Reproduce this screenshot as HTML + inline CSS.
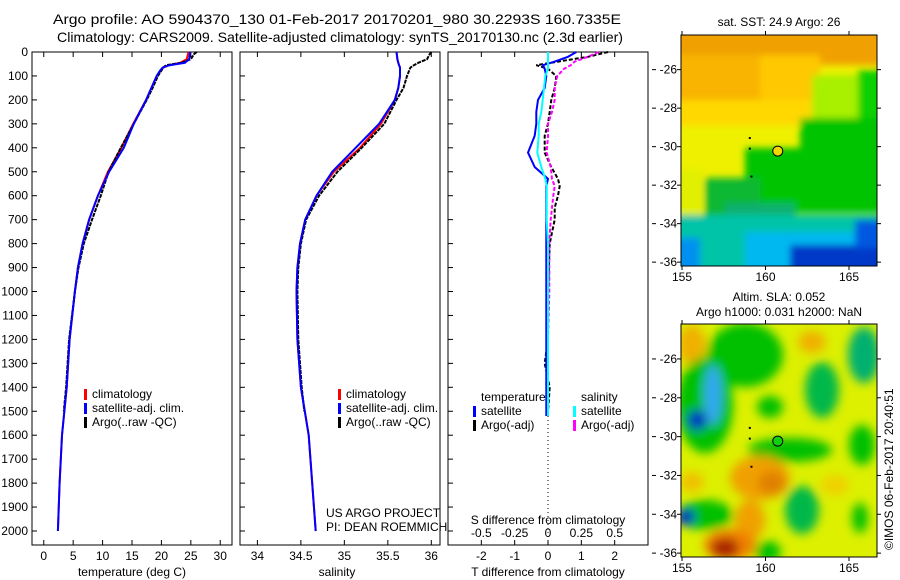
<!DOCTYPE html>
<html><head><meta charset="utf-8">
<style>
body{margin:0;background:#fff;}
svg{display:block;font-family:"Liberation Sans",sans-serif;font-size:12px;}
</style></head>
<body>
<svg id="fig" width="900" height="580" viewBox="0 0 900 580">
<defs>
<filter id="b1" x="-20%" y="-20%" width="140%" height="140%"><feGaussianBlur stdDeviation="3.5"/></filter>
<filter id="b2" x="-20%" y="-20%" width="140%" height="140%"><feGaussianBlur stdDeviation="5"/></filter>
<clipPath id="c1"><rect x="681" y="35" width="196" height="231"/></clipPath>
<clipPath id="c2"><rect x="681" y="324" width="196" height="233"/></clipPath>
</defs>
<text x="337" y="24" text-anchor="middle" font-size="14" textLength="568" lengthAdjust="spacingAndGlyphs">Argo profile: AO 5904370_130 01-Feb-2017 20170201_980 30.2293S 160.7335E</text>
<text x="340" y="42" text-anchor="middle" font-size="14" textLength="566" lengthAdjust="spacingAndGlyphs">Climatology: CARS2009. Satellite-adjusted climatology: synTS_20170130.nc (2.3d earlier)</text>

<!-- top map (SST) -->
<g clip-path="url(#c1)">
<rect x="670" y="20" width="220" height="260" fill="#eef000"/>
<g filter="url(#b1)">
<rect x="660" y="20" width="240" height="45" fill="#f0a000"/>
<rect x="660" y="55" width="110" height="55" fill="#f8b400"/>
<rect x="760" y="55" width="60" height="45" fill="#ffc800"/>
<rect x="660" y="100" width="160" height="25" fill="#ffd800"/>
<rect x="812" y="75" width="70" height="55" fill="#a8f000"/>
<rect x="858" y="70" width="30" height="85" fill="#10d000"/>
<rect x="800" y="118" width="90" height="40" fill="#00c400"/>
<rect x="745" y="148" width="140" height="65" fill="#00c400"/>
<rect x="705" y="178" width="55" height="40" fill="#10b830"/>
<rect x="725" y="203" width="70" height="25" fill="#10b070"/>
<rect x="660" y="170" width="42" height="50" fill="#e0f000"/>
<rect x="660" y="215" width="240" height="70" fill="#00c4a8"/>
<rect x="745" y="232" width="150" height="50" fill="#00b8f0"/>
<rect x="790" y="245" width="100" height="40" fill="#0038c8"/>
<rect x="855" y="220" width="35" height="28" fill="#0058e0"/>
<rect x="660" y="238" width="40" height="40" fill="#0090f0"/>
</g>
</g>
<rect x="681" y="35" width="196" height="231" fill="none" stroke="#000"/>
<text x="779" y="26" text-anchor="middle">sat. SST: 24.9 Argo: 26</text>

<!-- bottom map (SLA) -->
<g clip-path="url(#c2)">
<rect x="670" y="310" width="220" height="260" fill="#dcf000"/>
<g filter="url(#b2)">
<ellipse cx="692" cy="345" rx="14" ry="20" fill="#f0b000"/>
<ellipse cx="745" cy="355" rx="38" ry="32" fill="#00c000"/>
<ellipse cx="705" cy="405" rx="28" ry="48" fill="#00c000"/>
<ellipse cx="713" cy="395" rx="9" ry="30" fill="#30a8f0"/>
<ellipse cx="697" cy="420" rx="10" ry="10" fill="#0030c0"/>
<ellipse cx="812" cy="342" rx="14" ry="11" fill="#f0b000"/>
<ellipse cx="822" cy="390" rx="17" ry="28" fill="#00b848"/>
<ellipse cx="864" cy="355" rx="16" ry="28" fill="#00b070"/>
<ellipse cx="770" cy="407" rx="13" ry="11" fill="#00c000"/>
<ellipse cx="790" cy="450" rx="42" ry="12" fill="#00c000"/>
<ellipse cx="862" cy="445" rx="13" ry="20" fill="#00c000"/>
<ellipse cx="760" cy="478" rx="30" ry="22" fill="#f0a000"/>
<ellipse cx="772" cy="483" rx="14" ry="12" fill="#e08000"/>
<ellipse cx="750" cy="520" rx="15" ry="20" fill="#f0a000"/>
<ellipse cx="730" cy="545" rx="26" ry="16" fill="#f08000"/>
<ellipse cx="725" cy="548" rx="14" ry="10" fill="#a82000"/>
<ellipse cx="692" cy="482" rx="12" ry="10" fill="#f0c000"/>
<ellipse cx="705" cy="515" rx="28" ry="15" fill="#00c000"/>
<ellipse cx="686" cy="517" rx="9" ry="9" fill="#0030c0"/>
<ellipse cx="802" cy="510" rx="17" ry="24" fill="#00b848"/>
<ellipse cx="860" cy="518" rx="8" ry="15" fill="#00c000"/>
<ellipse cx="768" cy="552" rx="13" ry="11" fill="#00c000"/>
<ellipse cx="835" cy="485" rx="14" ry="10" fill="#f0d000"/>
</g>
</g>
<rect x="681" y="324" width="196" height="233" fill="none" stroke="#000"/>
<text x="779" y="301" text-anchor="middle">Altim. SLA: 0.052</text>
<text x="779" y="316" text-anchor="middle">Argo h1000: 0.031 h2000: NaN</text>
<text transform="translate(893,550) rotate(-90)">©IMOS 06-Feb-2017 20:40:51</text>

<g id="plots"></g>
</svg>
<script>
// ---- profile data (depth in dbar) ----
const depths   = [0,30,45,55,65,80,100,150,200,300,400,500,600,700,800,900,1000,1200,1400,1600,1800,2000];
const tempClim = [24.6,24.3,23.2,21.3,20.3,19.8,19.2,18.3,17.4,15.2,13.2,10.9,9.2,7.7,6.6,5.8,5.3,4.4,3.9,3.1,2.7,2.4];
const tempSat  = [24.9,24.7,24.0,21.4,20.2,19.7,19.2,18.3,17.4,15.3,13.6,11.1,9.2,7.7,6.6,5.8,5.3,4.4,3.9,3.1,2.7,2.4];
const argoDepths = [0,10,30,45,55,65,100,150,200,300,400,500,600,700,800,900,1000,1200,1400,1500];
const tempArgo = [26.0,25.5,25.0,23.4,20.8,20.3,19.4,18.5,17.5,15.3,13.1,11.0,9.7,8.2,6.8,5.9,5.3,4.3,3.8,3.4];
const salClim  = [35.60,35.61,35.62,35.63,35.64,35.64,35.64,35.62,35.58,35.42,35.18,34.88,34.68,34.55,34.49,34.46,34.45,34.46,34.50,34.59,34.63,34.67];
const salSat   = [35.60,35.61,35.62,35.63,35.64,35.64,35.64,35.62,35.58,35.40,35.13,34.86,34.68,34.55,34.49,34.46,34.45,34.46,34.50,34.59,34.63,34.67];
const salArgo  = [36.00,35.98,35.95,35.85,35.80,35.76,35.72,35.68,35.60,35.46,35.20,34.92,34.71,34.56,34.50,34.47,34.46,34.47,34.51,34.54];
// ---- difference panel ----
const diffDepths = [0,20,40,55,70,100,150,200,250,300,350,420,480,530,560,600,650,700,800,1000,1200,1300,1400,1500,1520];
const dTsat  = [0.85,0.6,0.2,-0.15,-0.1,-0.05,-0.1,-0.3,-0.35,-0.35,-0.4,-0.6,-0.4,0.0,-0.05,-0.05,-0.05,-0.05,-0.05,-0.05,-0.05,-0.05,-0.05,-0.05,-0.05];
const dTargo = [1.8,1.2,0.3,-0.35,0.0,0.25,0.2,0.1,0.05,0.0,-0.1,-0.1,0.1,0.3,0.35,0.3,0.2,0.2,0.05,0.0,0.0,-0.1,0.05,0.0,-0.05];
const dSsat  = [0.0,0.0,0.0,0.0,0.0,-0.02,-0.03,-0.04,-0.05,-0.07,-0.07,-0.08,-0.05,-0.02,-0.01,-0.01,-0.01,-0.01,0.0,0.0,0.0,0.0,0.0,0.0,0.0];
const dSargo = [0.38,0.3,0.2,0.17,0.12,0.07,0.05,0.05,0.03,0.0,0.0,-0.01,0.02,0.03,0.05,0.04,0.03,0.02,0.01,0.01,0.0,0.0,0.0,0.0,-0.01];
// ---- axis ticks ----
const depthTicks = [0,100,200,300,400,500,600,700,800,900,1000,1100,1200,1300,1400,1500,1600,1700,1800,1900,2000];
const tempTicks = [0,5,10,15,20,25,30];
const salTicks = [34,34.5,35,35.5,36];
const dTTicks = [-2,-1,0,1,2];
const dSTicks = [-0.5,-0.25,0,0.25,0.5];
const dSTickLabels = ['-0.5','-0.25','0','0.25','0.5'];
const latTicks = [-26,-28,-30,-32,-34,-36];
const lonTicks = [155,160,165];
const argoLon = 160.7335, argoLat = -30.2293;

const NS='http://www.w3.org/2000/svg';
const root=document.getElementById('plots');
function el(tag,attrs,parent){const e=document.createElementNS(NS,tag);for(const k in attrs)e.setAttribute(k,attrs[k]);(parent||root).appendChild(e);return e;}
function txt(x,y,s,anchor,parent){const t=el('text',{x:x,y:y,'text-anchor':anchor||'middle'},parent);t.textContent=s;return t;}

const yTop=52, yBot=545;
const yD=d=>yTop+d*0.2395;
function linScale(d0,d1,r0,r1){return v=>r0+(v-d0)*(r1-r0)/(d1-d0);}
const xT=linScale(-2,32,32,232);
const xS=linScale(33.8,36.1,240,440);
const xdT=linScale(-3,3,448,648);
const xdS=linScale(-0.75,0.75,448,648);

function panel(x0,name){
  const g=el('g',{});
  
  
  const r=el('rect',{x:x0,y:yTop,width:200,height:yBot-yTop,fill:'none',stroke:'#000'},g);
  
  
  return g;
}
function line(g,xs,ds,xf,color,w,name,dash){
  const pts=xs.map((v,i)=>xf(v).toFixed(1)+','+yD(ds[i]).toFixed(1)).join(' ');
  const p=el('polyline',{points:pts,fill:'none',stroke:color,'stroke-width':w},g);
  if(dash)p.setAttribute('stroke-dasharray',dash);
  
  
}
function depthAxis(g,x0,labels){
  depthTicks.forEach(d=>{
    el('line',{x1:x0,x2:x0+5,y1:yD(d),y2:yD(d),stroke:'#000'},g);
    if(labels){const t=txt(x0-4,yD(d)+4,String(d),'end',g);
      
      }
  });
}
function xAxis(g,ticks,labs,xf,y,topTicks){
  ticks.forEach((v,i)=>{
    el('line',{x1:xf(v),x2:xf(v),y1:yBot,y2:yBot-5,stroke:'#000'},g);
    if(topTicks)el('line',{x1:xf(v),x2:xf(v),y1:yTop,y2:yTop+5,stroke:'#000'},g);
    const t=txt(xf(v),y,labs[i],'middle',g);
    
    
  });
}
function legend(g,x,y,items){
  items.forEach((it,i)=>{
    el('rect',{x:x,y:y+i*14-9,width:3,height:11,fill:it[1]},g);
    const t=txt(x+8,y+i*14,it[0],'start',g);
    
    
  });
}

// Panel 1: temperature
const g1=panel(32,'temperature-panel');
depthAxis(g1,32,true);
xAxis(g1,tempTicks,tempTicks.map(String),xT,560,true);
line(g1,tempClim,depths,xT,'#f00',2,'temp-climatology-line');
line(g1,tempArgo,argoDepths,xT,'#000',2,'temp-argo-line','4 1');
line(g1,tempSat,depths,xT,'#00f',2,'temp-satellite-line');
legend(g1,84,398,[['climatology','#f00'],['satellite-adj. clim.','#00f'],['Argo(..raw -QC)','#000']]);
let t=txt(132,576,'temperature (deg C)','middle',g1);



// Panel 2: salinity
const g2=panel(240,'salinity-panel');
depthAxis(g2,240,false);
xAxis(g2,salTicks,salTicks.map(String),xS,560,true);
line(g2,salClim,depths,xS,'#f00',2,'sal-climatology-line');
line(g2,salArgo,argoDepths,xS,'#000',2,'sal-argo-line','4 1');
line(g2,salSat,depths,xS,'#00f',2,'sal-satellite-line');
legend(g2,338,398,[['climatology','#f00'],['satellite-adj. clim.','#00f'],['Argo(..raw -QC)','#000']]);
t=txt(337,576,'salinity','middle',g2);


t=txt(326,517,'US ARGO PROJECT','start',g2);


t=txt(326,531,'PI: DEAN ROEMMICH','start',g2);



// Panel 3: differences
const g3=panel(448,'difference-panel');
depthAxis(g3,448,false);
el('line',{x1:xdT(0),x2:xdT(0),y1:yD(1520),y2:yBot,stroke:'#000','stroke-dasharray':'1 3'},g3);
xAxis(g3,dTTicks,dTTicks.map(String),xdT,560,true);
dSTicks.forEach((v,i)=>{const tt=txt(xdS(v),537,dSTickLabels[i],'middle',g3);
  
  });
t=txt(548,524,'S difference from climatology','middle',g3);


t=txt(548,576,'T difference from climatology','middle',g3);


line(g3,dTargo,diffDepths,xdT,'#000',2,'t-diff-argo-line','4 2');
line(g3,dSargo,diffDepths,xdS,'#f0f',2,'s-diff-argo-line','4 2');
line(g3,dTsat,diffDepths,xdT,'#00f',2,'t-diff-satellite-line');
line(g3,dSsat,diffDepths,xdS,'#0ff',2,'s-diff-satellite-line');
t=txt(481,401,'temperature','start',g3);


t=txt(581,401,'salinity','start',g3);


legend(g3,473,415,[['satellite','#00f'],['Argo(-adj)','#000']]);
legend(g3,573,415,[['satellite','#0ff'],['Argo(-adj)','#f0f']]);

// Map axes
function mapAxes(x0,y0,w,h,latTop,latBot,name){
  const g=el('g',{});
  
  
  const lx=linScale(155,165,682,849);
  const ly=linScale(latTop,latBot,y0,y0+h);
  latTicks.forEach(v=>{
    el('line',{x1:x0,x2:x0-4,y1:ly(v),y2:ly(v),stroke:'#000'},g);
    el('line',{x1:x0+w,x2:x0+w+4,y1:ly(v),y2:ly(v),stroke:'#000'},g);
    el('line',{x1:652,x2:656,y1:ly(v),y2:ly(v),stroke:'#000'},g);
    const tt=txt(x0-4,ly(v)+4,String(v),'end',g);
    
    
  });
  lonTicks.forEach(v=>{
    el('line',{x1:lx(v),x2:lx(v),y1:y0+h,y2:y0+h+4,stroke:'#000'},g);
    el('line',{x1:lx(v),x2:lx(v),y1:y0,y2:y0-4,stroke:'#000'},g);
    const tt=txt(lx(v),y0+h+15,String(v),'middle',g);
    
    
  });
  const c=el('circle',{cx:lx(argoLon),cy:ly(argoLat),r:5,fill:name==='sst-map-axes'?'#f0d800':'#10d010',stroke:'#000'},g);
  
  
  [[159,-29.5],[159,-30.05],[159.1,-31.5]].forEach(p=>el('rect',{x:lx(p[0]),y:ly(p[1]),width:2,height:2,fill:'#000'},g));
}
mapAxes(681,35,196,231,-24.2,-36.2,'sst-map-axes');
mapAxes(681,324,196,233,-24.2,-36.2,'sla-map-axes');
</script>
</body></html>
